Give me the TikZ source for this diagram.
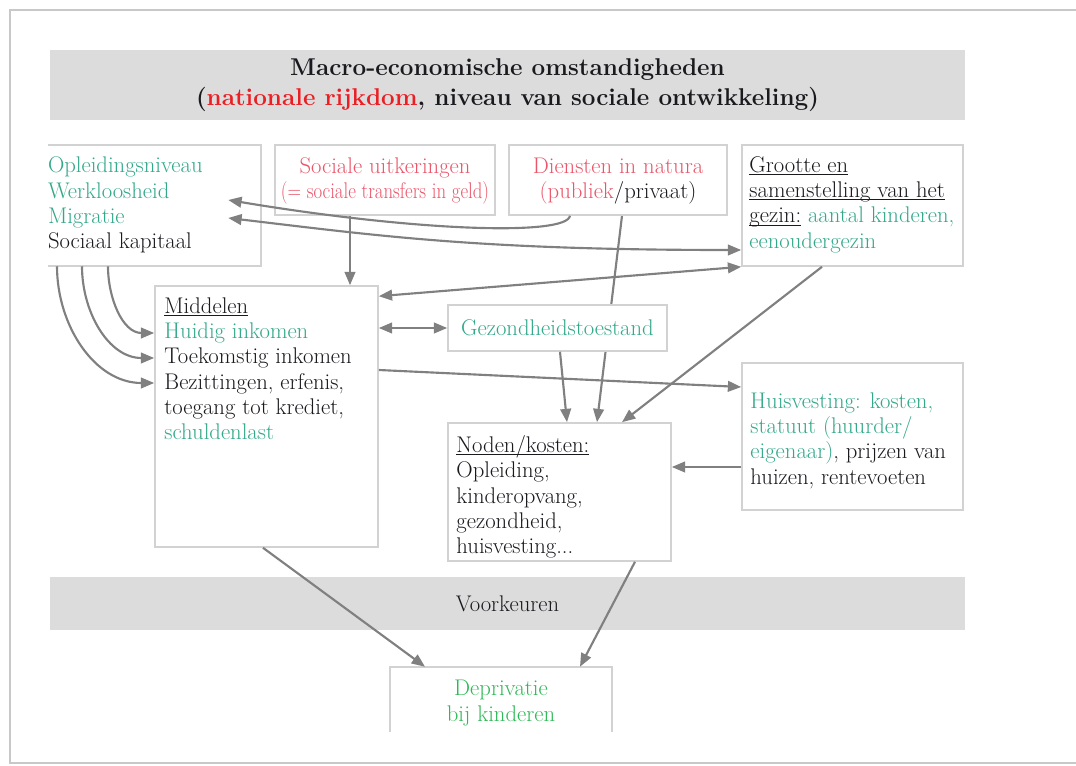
\documentclass[tikz,border=0pt]{standalone}
\usetikzlibrary{arrows.meta}

\definecolor{tealc}{RGB}{50,168,138}
\definecolor{pinkc}{RGB}{235,85,105}
\definecolor{redc}{RGB}{235,30,35}
\definecolor{greenc}{RGB}{45,185,85}
\definecolor{darkc}{RGB}{25,25,30}
\definecolor{arrc}{RGB}{128,128,128}
\definecolor{boxc}{RGB}{210,210,210}
\definecolor{bandc}{RGB}{220,220,220}
\definecolor{framec}{RGB}{200,200,200}

\pgfdeclarelayer{background}
\pgfsetlayers{background,main}

% underline that ignores descenders
\newcommand{\ulbox}[1]{\underline{\raisebox{0pt}[\height][0pt]{#1}}}

\tikzset{
  sz/.style 2 args={minimum width=#1*0.75pt, minimum height=#2*0.75pt},
  box/.style={draw=boxc, line width=1.2pt, fill=white, inner sep=0pt},
  openbox/.style={fill=white, inner sep=0pt},
  band/.style={fill=bandc, inner sep=0pt, text=darkc},
  txt/.style={inner sep=0pt, align=left, text=darkc, font=\fontsize{17}{19}\selectfont},
  ctxt/.style={txt, align=center},
  arr/.style={draw=arrc, line width=1.6pt, -{Triangle[length=10pt,width=8pt]}},
  darr/.style={arr, {Triangle[length=10pt,width=8pt]}-{Triangle[length=10pt,width=8pt]}},
}

\begin{document}
\begin{tikzpicture}[x=0.75pt,y=-0.75pt]
\useasboundingbox (0,0) rectangle (1076,766);

% outer frame
\draw[framec, line width=1.5pt] (1076,10) -- (10,10) -- (10,763) -- (1076,763);

% grey bands
\node[band, sz={915}{70}, align=center, font=\fontsize{18.2}{23}\selectfont\bfseries] (macro) at (507.5,85)
  {Macro-economische omstandigheden\\(\textcolor{redc}{nationale rijkdom}, niveau van sociale ontwikkeling)};
\node[band, sz={915}{53}, font=\fontsize{17}{19}\selectfont] (voork) at (507.5,603.5) {Voorkeuren};

% boxes
\node[openbox, sz={213}{121}] (opl) at (154.5,205.5) {};
\draw[boxc, line width=1.2pt] (opl.north west) -- (opl.north east) -- (opl.south east) -- (opl.south west);
\node[box, sz={220}{70}] (soc) at (385,180) {};
\node[box, sz={218}{70}] (dien) at (618,180) {};
\node[box, sz={221}{121}] (gezin) at (852.5,205.5) {};
\node[box, sz={223}{261}] (mid) at (266.5,416.5) {};
\node[box, sz={219}{46}] (gez) at (557.5,328) {};
\node[box, sz={221}{147}] (huis) at (852.5,436.5) {};
\node[box, sz={223}{138}] (nod) at (559.5,492) {};
\node[openbox, sz={222}{65}] (depr) at (501,699.5) {};
\draw[boxc, line width=1.2pt] (depr.south west) -- (depr.north west) -- (depr.north east) -- (depr.south east);

% texts
\node[txt, anchor=north west] (opl-t) at ([shift={(0,12)}]opl.north west)
  {\textcolor{tealc}{Opleidingsniveau}\\\textcolor{tealc}{Werkloosheid}\\\textcolor{tealc}{Migratie}\\Sociaal kapitaal};
\node[ctxt, text=pinkc] (soc-t) at (385,181)
  {Sociale uitkeringen\\\scalebox{0.83}[1]{(= sociale transfers in geld)}};
\node[ctxt, text=pinkc] (dien-t) at (618,181)
  {Diensten in natura\\(publiek\textcolor{darkc}{/privaat)}};
\node[txt, anchor=north west] (gezin-t) at ([shift={(8,12)}]gezin.north west)
  {\ulbox{Grootte en}\\\ulbox{samenstelling van het}\\\ulbox{gezin:} \textcolor{tealc}{aantal kinderen,}\\\textcolor{tealc}{eenoudergezin}};
\node[txt, anchor=north west] (mid-t) at ([shift={(10,12)}]mid.north west)
  {\ulbox{Middelen}\\\textcolor{tealc}{Huidig inkomen}\\Toekomstig inkomen\\Bezittingen, erfenis,\\toegang tot krediet,\\\textcolor{tealc}{schuldenlast}};
\node[ctxt, text=tealc] (gez-t) at (gez) {Gezondheidstoestand};
\node[txt, anchor=north west] (huis-t) at ([shift={(9,30)}]huis.north west)
  {\textcolor{tealc}{Huisvesting: kosten,}\\\textcolor{tealc}{statuut (huurder/}\\\textcolor{tealc}{eigenaar)}, prijzen van\\huizen, rentevoeten};
\node[txt, anchor=north west] (nod-t) at ([shift={(9,13)}]nod.north west)
  {\ulbox{Noden/kosten:}\\Opleiding,\\kinderopvang,\\gezondheid,\\huisvesting...};
\node[ctxt, text=greenc] (depr-t) at (501,703) {Deprivatie\\bij kinderen};

% connectors
\draw[arr] ([shift={(-48,0)}]dien.south) .. controls +(-3,20) and +(192,32) .. ([shift={(-33,-5.5)}]opl.east);
\draw[darr] ([shift={(-33,12.5)}]opl.east) .. controls +(152,18) and +(-262,0) .. ([shift={(0,44.5)}]gezin.west);
\coordinate (s1) at ([shift={(-35,0)}]soc.south);
\draw[arr] (s1) -- (s1 |- mid.north);
\draw[darr] ([shift={(0,11)}]mid.north east) -- (gezin.south west);
\draw[arr] ([shift={(-46.5,0)}]opl.south) to[out=-90,in=180] ([shift={(0,-83.5)}]mid.west);
\draw[arr] ([shift={(-72.5,0)}]opl.south) to[out=-90,in=180] ([shift={(0,-58.5)}]mid.west);
\draw[arr] ([shift={(-97.5,0)}]opl.south) to[out=-90,in=180] ([shift={(0,-33.5)}]mid.west);
\draw[darr] (gez.west -| mid.east) -- (gez.west);
\begin{pgfonlayer}{background}
\draw[arr] ([shift={(4,0)}]dien.south) -- ([shift={(37.5,0)}]nod.north);
\end{pgfonlayer}
\draw[arr] ([shift={(2.5,0)}]gez.south) -- ([shift={(7.5,0)}]nod.north);
\draw[arr] ([shift={(-30.5,0)}]gezin.south) -- ([shift={(62.5,0)}]nod.north);
\draw[arr] ([shift={(0,-46.5)}]mid.east) -- ([shift={(0,-49.5)}]huis.west);
\coordinate (h1) at ([shift={(0,30.5)}]huis.west);
\draw[arr] (h1) -- (h1 -| nod.east);
\draw[arr] ([shift={(-3.5,0)}]mid.south) -- ([shift={(-76,0)}]depr.north);
\draw[arr] ([shift={(75.5,0)}]nod.south) -- ([shift={(79,0)}]depr.north);
\end{tikzpicture}
\end{document}
